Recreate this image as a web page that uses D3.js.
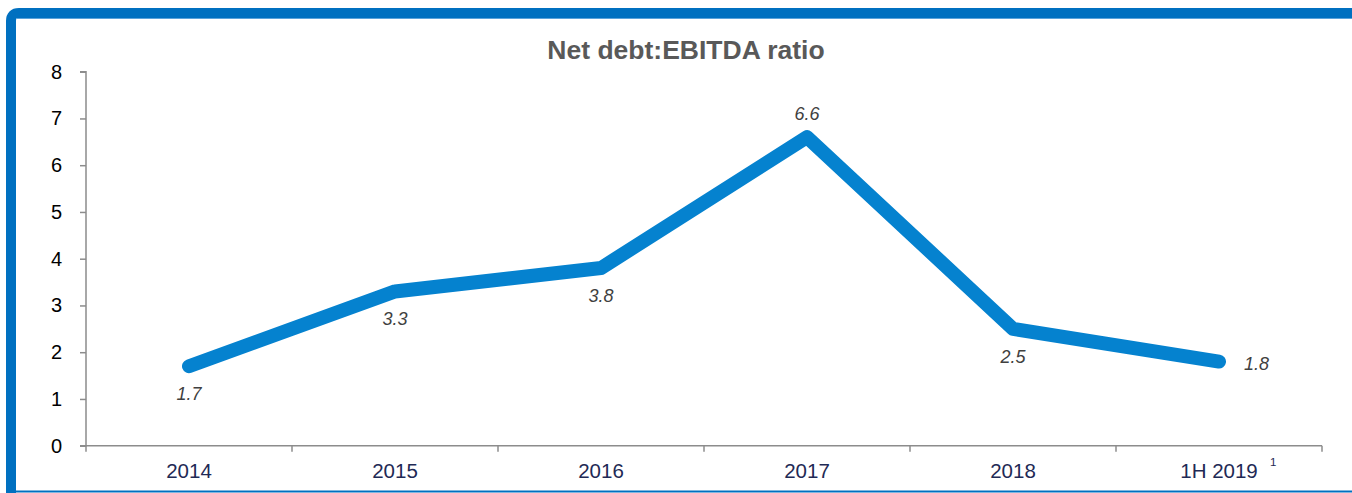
<!DOCTYPE html>
<html>
<head>
<meta charset="utf-8">
<script src="https://cdn.jsdelivr.net/npm/d3@7/dist/d3.min.js"></script>
<style>
  html, body { margin: 0; padding: 0; background: #fff; }
  svg { display: block; }
</style>
</head>
<body>
<svg id="chart" width="1352" height="493"></svg>
<script>
// Net debt to EBITDA ratio by period
const categories = ["2014", "2015", "2016", "2017", "2018", "1H 2019"];
const ratios = [1.7, 3.3, 3.8, 6.6, 2.5, 1.8];
const yTicks = [0, 1, 2, 3, 4, 5, 6, 7, 8];
const labelPlacement = ["below", "below", "below", "above", "below", "right"];

const svg = d3.select("#chart");
const W = 1352, H = 493;
const FONT = "Liberation Sans, Arial, sans-serif";

// Panel frame
svg.append("rect").attr("x", 0).attr("y", 0).attr("width", W).attr("height", H).attr("fill", "#fff");
svg.append("path")
  .attr("d", "M11,493 L11,21 Q11,13 19,13 L1360,13")
  .attr("fill", "none").attr("stroke", "#0070C0").attr("stroke-width", 10);
svg.append("line").attr("x1", 16).attr("x2", W).attr("y1", 18.5).attr("y2", 18.5)
  .attr("stroke", "#5BA3DB").attr("stroke-width", 1);
svg.append("line").attr("x1", 16).attr("x2", W).attr("y1", 491.5).attr("y2", 491.5)
  .attr("stroke", "#0070C0").attr("stroke-width", 2);

const x = d3.scaleBand().domain(categories).range([86, 1322]);
const y = d3.scaleLinear().domain([0, 8]).range([445.7, 71.7]);

// Title
svg.append("text")
  .attr("x", 686).attr("y", 59)
  .attr("text-anchor", "middle")
  .attr("font-family", FONT)
  .attr("font-weight", "bold").attr("font-size", 26.5)
  .attr("fill", "#595959")
  .text("Net debt:EBITDA ratio");

// Y axis
const yAxis = svg.append("g")
  .attr("transform", "translate(86,0)")
  .call(d3.axisLeft(y).tickValues(yTicks).tickFormat(d3.format("d")).tickSize(6).tickPadding(18));
yAxis.select(".domain").attr("stroke", "#8C8C8C").attr("stroke-width", 1.5)
  .attr("d", "M-6,71.7H0V445.7H-6");
yAxis.selectAll(".tick line").attr("stroke", "#8C8C8C").attr("stroke-width", 1.5);
yAxis.selectAll(".tick text")
  .attr("font-family", FONT)
  .attr("font-size", 20).attr("fill", "#000");

// X axis with ticks at band edges
const xAxisG = svg.append("g").attr("transform", "translate(0,445.7)");
xAxisG.append("line").attr("x1", 80).attr("x2", 1322).attr("y1", 0).attr("y2", 0)
  .attr("stroke", "#8C8C8C").attr("stroke-width", 1.5);
const edges = categories.map(c => x(c)).concat([x.range()[1]]);
xAxisG.selectAll("line.tk").data(edges).join("line").attr("class", "tk")
  .attr("x1", d => d).attr("x2", d => d).attr("y1", 0).attr("y2", 6)
  .attr("stroke", "#8C8C8C").attr("stroke-width", 1.5);
xAxisG.selectAll("text.cat").data(categories).join("text").attr("class", "cat")
  .attr("x", d => x(d) + x.bandwidth() / 2)
  .attr("y", 32.3)
  .attr("text-anchor", "middle")
  .attr("font-family", FONT)
  .attr("font-size", 20.5).attr("fill", "#1F2A55")
  .text(d => d);
// Footnote marker on last category
xAxisG.append("text")
  .attr("x", x("1H 2019") + x.bandwidth() / 2 + 51)
  .attr("y", 20.3)
  .attr("font-family", FONT)
  .attr("font-size", 11.5).attr("fill", "#1F2A55")
  .text("1");

// Line
const pts = categories.map((c, i) => ({ c, v: ratios[i], p: labelPlacement[i] }));
const line = d3.line().x(d => x(d.c) + x.bandwidth() / 2).y(d => y(d.v));
svg.append("path").datum(pts)
  .attr("d", line)
  .attr("fill", "none").attr("stroke", "#0582CF")
  .attr("stroke-width", 14).attr("stroke-linecap", "round").attr("stroke-linejoin", "round");

// Value labels
svg.selectAll("text.val").data(pts).join("text").attr("class", "val")
  .attr("x", d => x(d.c) + x.bandwidth() / 2 + (d.p === "right" ? 25 : 0))
  .attr("y", d => y(d.v) + (d.p === "below" ? 34 : d.p === "above" ? -17 : 8))
  .attr("text-anchor", d => d.p === "right" ? "start" : "middle")
  .attr("font-family", FONT)
  .attr("font-style", "italic").attr("font-size", 18).attr("fill", "#404040")
  .text(d => d3.format(".1f")(d.v));
</script>
</body>
</html>
